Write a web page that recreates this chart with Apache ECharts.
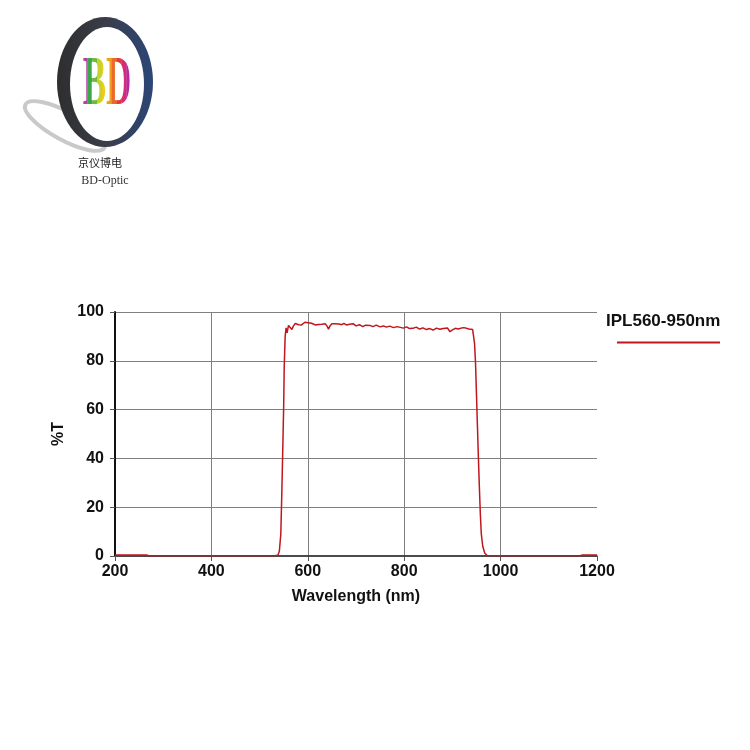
<!DOCTYPE html>
<html>
<head>
<meta charset="utf-8">
<script src="https://cdn.jsdelivr.net/npm/echarts@6/dist/echarts.min.js"></script>
<style>html,body{margin:0;padding:0;background:#fff}#c{width:750px;height:750px}</style>
</head>
<body>
<div id="c"></div>
<script>
const seriesName = 'IPL560-950nm';
const xTicks = [200, 400, 600, 800, 1000, 1200];
const yTicks = [0, 20, 40, 60, 80, 100];
const wavelength = [200,265,270,300,400,500,530,538,541,544,546,548,550,551,553,555,557,560,563,567,570,574,577,581,584,587,590,594,597,601,605,608,611,615,618,622,625,629,633,636,640,643,646,650,656,660,665,670,675,680,687,694,700,707,714,720,729,735,742,750,757,763,770,778,785,792,798,805,811,818,825,832,839,846,853,860,867,874,881,885,890,895,900,906,912,916,922,928,934,938,942,944,946,948,950,952,954,956,958,960,963,967,972,1000,1100,1165,1170,1200];
const transmission = [0.4,0.4,0.1,0.1,0.1,0.1,0.1,0.3,2,9,25,43,62,77,90,93.5,91.4,94.5,95.0,92.8,94.2,95.3,95.6,94.8,95.5,94.7,95.4,95.8,95.3,95.6,95.0,95.4,95.1,94.7,95.5,94.9,94.5,95.0,95.4,95.2,94.2,93.0,94.3,95.2,95.2,94.6,95.1,94.8,95.3,94.7,95.0,95.2,94.3,94.8,94.0,94.6,94.5,94.0,94.6,93.9,94.3,93.8,94.2,93.6,94.0,93.7,93.4,93.9,93.2,93.3,93.8,93.0,93.5,92.8,93.2,92.6,93.4,92.9,93.2,92.6,93.4,91.9,92.7,93.3,93.0,93.3,93.6,93.4,93.0,93.3,92.8,92.0,87,79,66,53,40,28,17,9,4,1.2,0.2,0.1,0.1,0.1,0.4,0.4];

const chart = echarts.init(document.getElementById('c'), null, {renderer: 'canvas'});
const data = wavelength.map((w, i) => [w, transmission[i]]);
const font = '"Liberation Sans", Arial, sans-serif';

chart.setOption({
  animation: false,
  backgroundColor: '#fff',
  grid: {left: 115, right: 153, top: 312, bottom: 194, containLabel: false},
  xAxis: {
    type: 'value', min: xTicks[0], max: xTicks[xTicks.length - 1], interval: 200,
    name: 'Wavelength (nm)', nameLocation: 'middle', nameGap: 33,
    nameTextStyle: {fontFamily: font, fontWeight: 'bold', fontSize: 16, color: '#111'},
    axisLine: {show: true, onZero: false, lineStyle: {color: '#111', width: 1.5}},
    axisTick: {show: true, inside: false, length: 5, lineStyle: {color: '#555', width: 1}},
    axisLabel: {fontFamily: font, fontWeight: 'bold', fontSize: 16, color: '#111', margin: 8,
      formatter: v => String(v)},
    splitLine: {show: true, showMinLine: false, showMaxLine: false, lineStyle: {color: '#808080', width: 1}}
  },
  yAxis: {
    type: 'value', min: yTicks[0], max: yTicks[yTicks.length - 1], interval: 20,
    name: '%T', nameLocation: 'middle', nameGap: 48, nameRotate: 90,
    nameTextStyle: {fontFamily: font, fontWeight: 'bold', fontSize: 16, color: '#111'},
    axisLine: {show: true, lineStyle: {color: '#111', width: 2}},
    axisTick: {show: true, inside: false, length: 5, lineStyle: {color: '#555', width: 1}},
    axisLabel: {fontFamily: font, fontWeight: 'bold', fontSize: 16, color: '#111', margin: 11,
      formatter: v => String(v)},
    splitLine: {show: true, showMinLine: false, lineStyle: {color: '#808080', width: 1}}
  },
  series: [{
    name: seriesName, type: 'line', data: data, showSymbol: false, smooth: false,
    lineStyle: {color: '#c0161e', width: 1.5}, itemStyle: {color: '#c0161e'}, z: 5
  }],
  graphic: [
    {type: 'text', left: 606, top: 313, style: {text: seriesName, font: 'bold 17px ' + font, fill: '#111'}},
    {type: 'line', shape: {x1: 617, y1: 342.5, x2: 720, y2: 342.5}, style: {stroke: '#c0161e', lineWidth: 2}},
    // logo
    {type: 'ellipse', x: 65, y: 126, rotation: -0.5, shape: {cx: 0, cy: 0, rx: 45, ry: 14},
      style: {fill: 'none', stroke: '#c9c9c9', lineWidth: 4}},
    {type: 'ellipse', shape: {cx: 105, cy: 82, rx: 48, ry: 65},
      style: {fill: new echarts.graphic.LinearGradient(0, 0, 1, 0, [
        {offset: 0, color: '#2e2e2e'}, {offset: 0.5, color: '#3a3d48'}, {offset: 1, color: '#2b4677'}])}},
    {type: 'ellipse', shape: {cx: 107, cy: 84, rx: 37, ry: 57}, style: {fill: '#fff'}},
    {type: 'text', x: 100, y: 163, style: {text: '京仪博电', font: '11px "Noto Sans CJK SC"', fill: '#222', align: 'center', verticalAlign: 'middle'}},
    {type: 'text', x: 105, y: 181, style: {text: 'BD-Optic', font: '12px "Liberation Serif", serif', fill: '#333', align: 'center', verticalAlign: 'middle'}}
  ]
});

// Rainbow "BD" logo lettering: the same text drawn in vertical strips of colour
const zr = chart.getZr();
const stripColors = ['#b8409e', '#3aa84a', '#6cbc3c', '#c8d228', '#e8cc20', '#f0a020', '#ec6a28', '#e23a3a', '#d62c78', '#b42aa6'];
const halfW = 49, stripW = (2 * halfW) / stripColors.length;
stripColors.forEach((c, i) => {
  const t = new echarts.graphic.Text({
    x: 107, y: 86, scaleX: 0.5, z: 100,
    style: {text: 'BD', font: 'bold 70px "Liberation Serif", serif', align: 'center', verticalAlign: 'middle', fill: c}
  });
  t.setClipPath(new echarts.graphic.Rect({shape: {x: -halfW + i * stripW - 0.3, y: -50, width: stripW + 0.6, height: 100}}));
  zr.add(t);
});
</script>
</body>
</html>
